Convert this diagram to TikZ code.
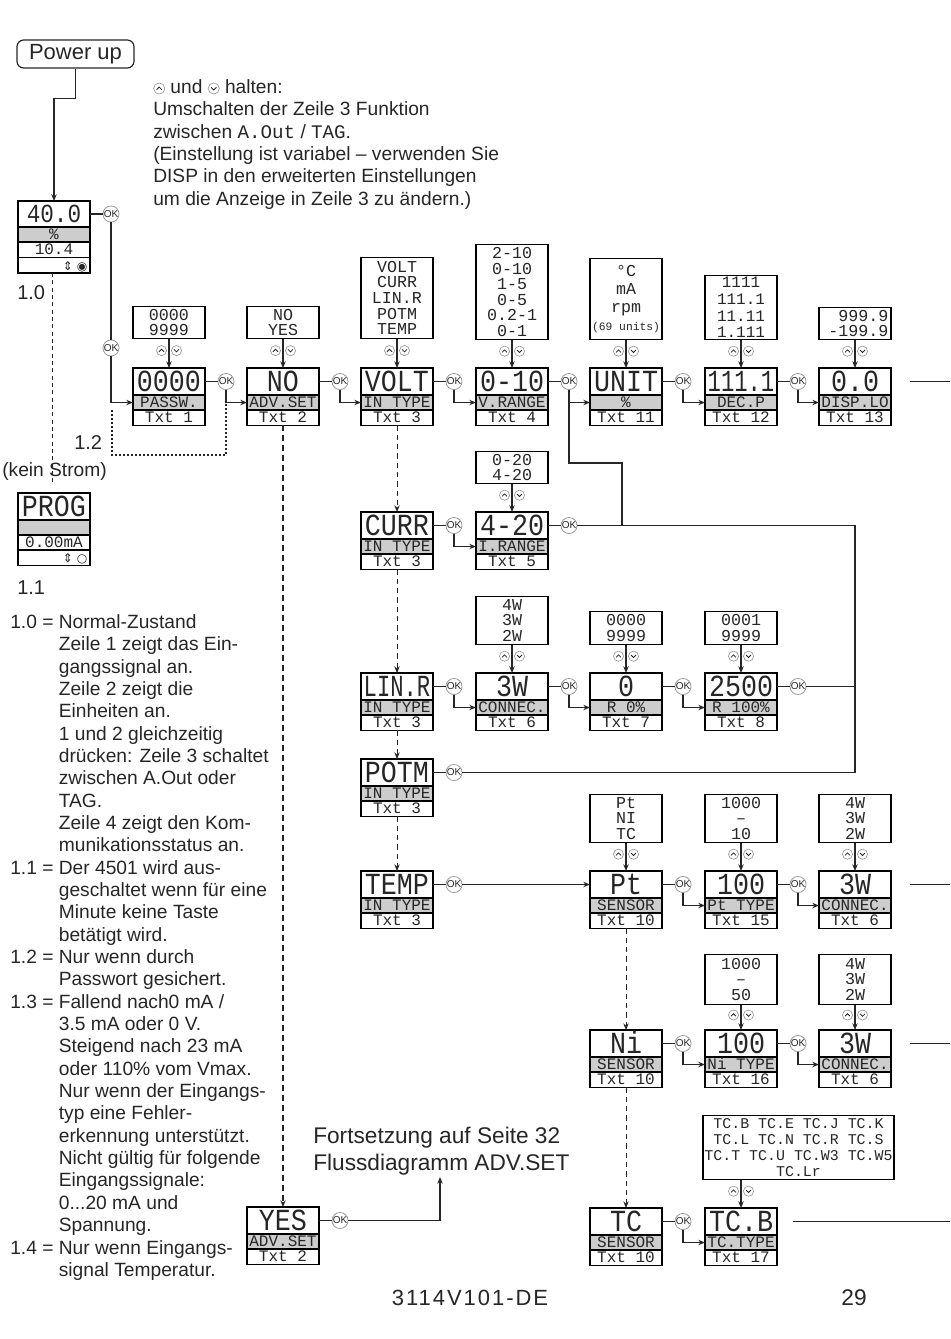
\documentclass[tikz,border=0pt]{standalone}
\usepackage{fontspec}
\usepackage{graphicx}
\setmainfont{Liberation Sans}
\newfontfamily\lcd{Liberation Mono}
\newfontfamily\symf{DejaVu Sans}
\usetikzlibrary{arrows.meta,calc}
\definecolor{ink}{HTML}{262626}
\definecolor{lgrey}{HTML}{CDCDCD}
\definecolor{okgrey}{HTML}{9A9A9A}
\newsavebox\fitbox
\newdimen\fitd
\newcommand\fitx[2]{\sbox\fitbox{#2}\fitd=\wd\fitbox\relax\ifdim\fitd>#1\relax\pgfmathsetmacro\fxr{#1/\fitd}\scalebox{\fxr}[1.15]{\usebox\fitbox}\else\scalebox{1}[1.15]{\usebox\fitbox}\fi}
\newcommand\disp[6]{%
 \node[dmain,anchor=north] (#1) at (#2,#3) {\fitx{50pt}{#4}};
 \node[dlab,anchor=north] (#1-l) at (#1.south) {#5};
 \node[dtxt,anchor=north] (#1-t) at (#1-l.south) {#6};}
\newcommand\okafter[1]{\node[okc] (#1-ok) at ([xshift=15.75pt]#1.east) {OK};
 \draw[conn] (#1.east) -- (#1-ok.west);}
\newcommand\opt[6]{\node[optbox,minimum height=#4,anchor=south,#6] (#1) at (#2,#3) {#5};}
\newcommand\optarr[2]{\draw[arr] (#1.south) -- (#2.north);
 \pic at ($(#1.south)!0.4!(#2.north)$) {updn};}
\newcommand\okarr[2]{\draw[arr] (#1-ok.south) |- (#2-l.west);}
\newcommand\symU{\tikz[baseline=-3.6pt]{\draw[okgrey,line width=0.5pt] (0pt,0pt) circle[radius=4.2pt]; \draw[ink,line width=0.6pt] (-2pt,-0.9pt) -- (0pt,1.1pt) -- (2pt,-0.9pt);}}
\newcommand\symD{\tikz[baseline=-3.6pt]{\draw[okgrey,line width=0.5pt] (0pt,0pt) circle[radius=4.2pt]; \draw[ink,line width=0.6pt] (-2pt,0.9pt) -- (0pt,-1.1pt) -- (2pt,0.9pt);}}
\begin{document}
\begin{tikzpicture}[x=0.75pt,y=-0.75pt,color=ink,
 dmain/.style={draw=black,line width=0.9pt,minimum width=54pt,minimum height=20.25pt,inner sep=0pt,outer sep=0pt,text height=15pt,text depth=0pt,font=\lcd\fontsize{20}{20}\selectfont},
 dlab/.style={draw=black,line width=0.9pt,fill=lgrey,minimum width=54pt,minimum height=11.25pt,inner sep=0pt,outer sep=0pt,text height=8pt,text depth=0pt,font=\lcd\fontsize{12}{12}\selectfont},
 dtxt/.style={draw=black,line width=0.9pt,minimum width=54pt,minimum height=11.6pt,inner sep=0pt,outer sep=0pt,text height=7.8pt,text depth=0pt,font=\lcd\fontsize{12}{12}\selectfont},
 optbox/.style={draw=black,line width=0.9pt,minimum width=54pt,inner sep=1pt,align=center,font=\lcd\fontsize{12.5}{11.7}\selectfont},
 okc/.style={circle,draw=okgrey,line width=0.6pt,fill=white,minimum size=12pt,inner sep=0pt,font=\fontsize{7.5}{8}\selectfont},
 conn/.style={draw=ink,line width=0.85pt},
 arr/.style={conn,-{Stealth[length=5pt,width=4pt]}},
 dsh/.style={arr,line width=0.7pt,dash pattern=on 4pt off 3pt},
 hdsh/.style={arr,line width=1.5pt,dash pattern=on 4.5pt off 3pt},
 dotl/.style={conn,line width=1.1pt,dash pattern=on 1.4pt off 1.6pt},
 txt/.style={inner sep=0pt,font=\fontsize{14.4}{16.76}\selectfont},
 updn/.pic={
  \draw[okgrey,line width=0.5pt,fill=white] (-7.5,0) circle[radius=3.8pt];
  \draw[okgrey,line width=0.5pt,fill=white] (7.5,0) circle[radius=3.8pt];
  \draw[ink,line width=0.6pt] (-10,1.2) -- (-7.5,-1.3) -- (-5,1.2);
  \draw[ink,line width=0.6pt] (5,-1.2) -- (7.5,1.3) -- (10,-1.2);}
]
\useasboundingbox (0,0) rectangle (950,1339);

% ---------- power up and status display
\node[draw=ink,line width=0.9pt,rounded corners=5pt,minimum width=87.75pt,minimum height=21pt,inner sep=0pt,font=\fontsize{16.5}{18}\selectfont] (pu) at (75.5,54) {Power up};
\node[dmain,anchor=north,minimum height=19.5pt,text height=13pt,font=\lcd\fontsize{17}{17}\selectfont] (stat) at (54,201) {\fitx{50pt}{40.0}};
\node[dlab,anchor=north] (stat-l) at (stat.south) {\%};
\node[dtxt,anchor=north] (stat-v) at (stat-l.south) {10.4};
\node[dtxt,anchor=north,text width=50pt,align=right,font=\symf\fontsize{9}{9}\selectfont] (stat-b) at (stat-v.south) {⇕ ◉};
\okafter{stat}
\draw[arr] (pu.south) -- ++(0,30) -| (stat.north);
\node[okc] (ok2) at (111,348) {OK};
\draw[conn] (stat-ok.south) -- (ok2.north);

\node[anchor=base west,inner sep=0pt,font=\fontsize{15}{16}\selectfont] (l10) at (17,299) {1.0};
\node[anchor=base west,inner sep=0pt,font=\fontsize{14.4}{16}\selectfont] (kein) at (2,476) {(kein Strom)};
\coordinate (ks) at (52,485);
\draw[conn,line width=0.6pt,dash pattern=on 3pt off 2.5pt] (stat-b.south -| ks) -- (ks);
\node[anchor=base west,inner sep=0pt,font=\fontsize{15}{16}\selectfont] (l12) at (74,449) {1.2};

% PROG display
\node[dmain,anchor=north] (prog) at (54,493) {\fitx{50pt}{PROG}};
\node[dlab,anchor=north] (prog-l) at (prog.south) {};
\node[dtxt,anchor=north,minimum height=11.25pt] (prog-v) at (prog-l.south) {0.00mA};
\node[dtxt,anchor=north,text width=50pt,align=right,font=\symf\fontsize{9}{9}\selectfont] (prog-b) at (prog-v.south) {⇕ ○};
\node[anchor=base west,inner sep=0pt,font=\fontsize{15}{16}\selectfont] (l11) at (17,594) {1.1};

% ---------- top note
\node[txt,anchor=north west] (note) at (153,77.4) {\begin{tabular}{@{}l@{}}\symU{} und \symD{} halten:\\
Umschalten der Zeile 3 Funktion\\
zwischen {\lcd A.Out} / {\lcd TAG}.\\
(Einstellung ist variabel – verwenden Sie\\
DISP in den erweiterten Einstellungen\\
um die Anzeige in Zeile 3 zu ändern.)\end{tabular}};

% ---------- displays
\disp{passw}{169}{368}{0000}{PASSW.}{Txt 1}
\disp{advno}{283}{368}{NO}{ADV.SET}{Txt 2}
\disp{volt}{397}{368}{VOLT}{IN TYPE}{Txt 3}
\disp{vr}{512}{368}{0-10}{V.RANGE}{Txt 4}
\disp{unit}{626}{368}{UNIT}{\%}{Txt 11}
\disp{decp}{741}{368}{111.1}{DEC.P}{Txt 12}
\disp{displo}{855}{368}{0.0}{DISP.LO}{Txt 13}
\disp{curr}{397}{512}{CURR}{IN TYPE}{Txt 3}
\disp{ir}{512}{512}{4-20}{I.RANGE}{Txt 5}
\disp{linr}{397}{673}{LIN.R}{IN TYPE}{Txt 3}
\disp{cona}{512}{673}{3W}{CONNEC.}{Txt 6}
\disp{rz}{626}{673}{0}{R 0\%}{Txt 7}
\disp{rh}{741}{673}{2500}{R 100\%}{Txt 8}
\disp{potm}{397}{759}{POTM}{IN TYPE}{Txt 3}
\disp{temp}{397}{871}{TEMP}{IN TYPE}{Txt 3}
\disp{pts}{626}{871}{Pt}{SENSOR}{Txt 10}
\disp{ptt}{741}{871}{100}{Pt TYPE}{Txt 15}
\disp{conb}{855}{871}{3W}{CONNEC.}{Txt 6}
\disp{nis}{626}{1030}{Ni}{SENSOR}{Txt 10}
\disp{nit}{741}{1030}{100}{Ni TYPE}{Txt 16}
\disp{conc}{855}{1030}{3W}{CONNEC.}{Txt 6}
\disp{tcs}{626}{1208}{TC}{SENSOR}{Txt 10}
\disp{tct}{741}{1208}{TC.B}{TC.TYPE}{Txt 17}
\disp{yes}{283}{1207}{YES}{ADV.SET}{Txt 2}

\foreach \n in {passw,advno,volt,vr,unit,decp,curr,ir,linr,cona,rz,rh,potm,temp,pts,ptt,nis,nit,tcs,yes}{\okafter{\n}}

% ---------- option lists
\opt{o-passw}{169}{339}{24pt}{0000\\9999}{}
\opt{o-advno}{283}{339}{24pt}{NO\\YES}{}
\opt{o-volt}{397}{339}{60.75pt}{VOLT\\CURR\\LIN.R\\POTM\\TEMP}{}
\opt{o-vr}{512}{340}{71.25pt}{2-10\\0-10\\1-5\\0-5\\0.2-1\\0-1}{}
\opt{o-unit}{626}{340}{60.75pt}{°C\\mA\\rpm\\{\fontsize{8.5}{13.5}\selectfont(69 units)}}{font=\lcd\fontsize{12.5}{13.5}\selectfont}
\opt{o-decp}{741}{340}{48pt}{1111\\111.1\\11.11\\1.111}{font=\lcd\fontsize{12}{12.6}\selectfont}
\opt{o-displo}{855}{340}{24pt}{999.9\\-199.9}{align=right,text width=50pt}
\opt{o-ir}{512}{484}{24pt}{0-20\\4-20}{}
\opt{o-cona}{512}{645}{36pt}{4W\\3W\\2W}{}
\opt{o-rz}{626}{645}{24.75pt}{0000\\9999}{}
\opt{o-rh}{741}{645}{24.75pt}{0001\\9999}{}
\opt{o-pts}{626}{843}{36pt}{Pt\\NI\\TC}{}
\opt{o-ptt}{741}{843}{36pt}{1000\\–\\10}{}
\opt{o-conb}{855}{843}{36pt}{4W\\3W\\2W}{}
\opt{o-nit}{741}{1005}{37.5pt}{1000\\–\\50}{}
\opt{o-conc}{855}{1005}{37.5pt}{4W\\3W\\2W}{}
\opt{o-tct}{798.5}{1180}{48pt}{TC.B TC.E TC.J TC.K\\TC.L TC.N TC.R TC.S\\TC.T TC.U TC.W3 TC.W5\\TC.Lr}{minimum width=140.25pt,font=\lcd\fontsize{11.2}{12}\selectfont}

\optarr{o-passw}{passw}
\optarr{o-advno}{advno}
\optarr{o-volt}{volt}
\optarr{o-vr}{vr}
\optarr{o-unit}{unit}
\optarr{o-decp}{decp}
\optarr{o-displo}{displo}
\optarr{o-ir}{ir}
\optarr{o-cona}{cona}
\optarr{o-rz}{rz}
\optarr{o-rh}{rh}
\optarr{o-pts}{pts}
\optarr{o-ptt}{ptt}
\optarr{o-conb}{conb}
\optarr{o-nit}{nit}
\optarr{o-conc}{conc}
\draw[arr] (tct |- o-tct.south) -- (tct.north);
\pic at ($(tct |- o-tct.south)!0.4!(tct.north)$) {updn};

% ---------- OK flows
\draw[arr] (ok2.south) |- (passw-l.west);
\okarr{passw}{advno}
\okarr{advno}{volt}
\okarr{volt}{vr}
\okarr{vr}{unit}
\okarr{unit}{decp}
\okarr{decp}{displo}
\okarr{curr}{ir}
\okarr{linr}{cona}
\okarr{cona}{rz}
\okarr{rz}{rh}
\okarr{pts}{ptt}
\okarr{ptt}{conb}
\okarr{nis}{nit}
\okarr{nit}{conc}
\okarr{tcs}{tct}
\draw[arr] (temp-ok.east) -- (pts.west);

% return bus to UNIT
\coordinate (bus) at (855,0);
\coordinate (k2) at (622,463);
\draw[conn] (ir-ok.east) -- (ir-ok.east -| bus) -- (potm-ok.east -| bus) -- (potm-ok.east);
\draw[conn] (rh-ok.east) -- (rh-ok.east -| bus);
\draw[conn] (vr-ok.south) -- (vr-ok.south |- k2) -- (k2) -- (k2 |- ir-ok.east);

% dashed selections
\draw[dsh] (volt-t.south) -- (curr.north);
\draw[dsh] (curr-t.south) -- (linr.north);
\draw[dsh] (linr-t.south) -- (potm.north);
\draw[dsh] (potm-t.south) -- (temp.north);
\draw[dsh] (pts-t.south) -- (nis.north);
\draw[dsh] (nis-t.south) -- (tcs.north);
\draw[hdsh] (advno-t.south) -- (yes.north);

% password dotted path
\coordinate (d1) at (112,410);
\coordinate (d2) at (226,455);
\draw[dotl] (d1) |- (d2) -- (passw-ok.south |- passw-l.west);

% continuation stubs at right edge
\coordinate (e1a) at (910,381.5); \coordinate (e1b) at (950,381.5);
\coordinate (e2a) at (910,884.5); \coordinate (e2b) at (950,884.5);
\coordinate (e3a) at (910,1043.5); \coordinate (e3b) at (950,1043.5);
\coordinate (e4a) at (793,1221.5); \coordinate (e4b) at (950,1221.5);
\draw[conn] (e1a) -- (e1b);
\draw[conn] (e2a) -- (e2b);
\draw[conn] (e3a) -- (e3b);
\draw[conn] (e4a) -- (e4b);

% continuation ADV.SET
\node[anchor=north west,inner sep=0pt,font=\fontsize{17}{20}\selectfont] (fort) at (313,1125) {\begin{tabular}{@{}l@{}}Fortsetzung auf Seite 32\\Flussdiagramm ADV.SET\end{tabular}};
\coordinate (fa) at (440,1177);
\draw[arr] (yes-ok.east) -| (fa);

% ---------- legend
\node[txt,anchor=north west] (legend) at (10,612.4) {\begin{tabular}{@{}l@{\ }l@{}}
1.0 = & Normal-Zustand\\
 & Zeile 1 zeigt das Ein-\\
 & gangssignal an.\\
 & Zeile 2 zeigt die\\
 & Einheiten an.\\
 & 1 und 2 gleichzeitig\\
 & drücken: Zeile 3 schaltet\\
 & zwischen A.Out oder\\
 & TAG.\\
 & Zeile 4 zeigt den Kom-\\
 & munikationsstatus an.\\
1.1 = & Der 4501 wird aus-\\
 & geschaltet wenn für eine\\
 & Minute keine Taste\\
 & betätigt wird.\\
1.2 = & Nur wenn durch\\
 & Passwort gesichert.\\
1.3 = & Fallend nach0 mA /\\
 & 3.5 mA oder 0 V.\\
 & Steigend nach 23 mA\\
 & oder 110\% vom Vmax.\\
 & Nur wenn der Eingangs-\\
 & typ eine Fehler-\\
 & erkennung unterstützt.\\
 & Nicht gültig für folgende\\
 & Eingangssignale:\\
 & 0...20 mA und\\
 & Spannung.\\
1.4 = & Nur wenn Eingangs-\\
 & signal Temperatur.
\end{tabular}};

% ---------- footer
\node[anchor=base,inner sep=0pt,font=\fontsize{16.5}{18}\selectfont\addfontfeature{LetterSpace=9}] (code) at (470,1305) {3114V101-DE};
\node[anchor=base,inner sep=0pt,font=\fontsize{17}{18}\selectfont] (page) at (854,1305) {29};
\end{tikzpicture}
\end{document}
